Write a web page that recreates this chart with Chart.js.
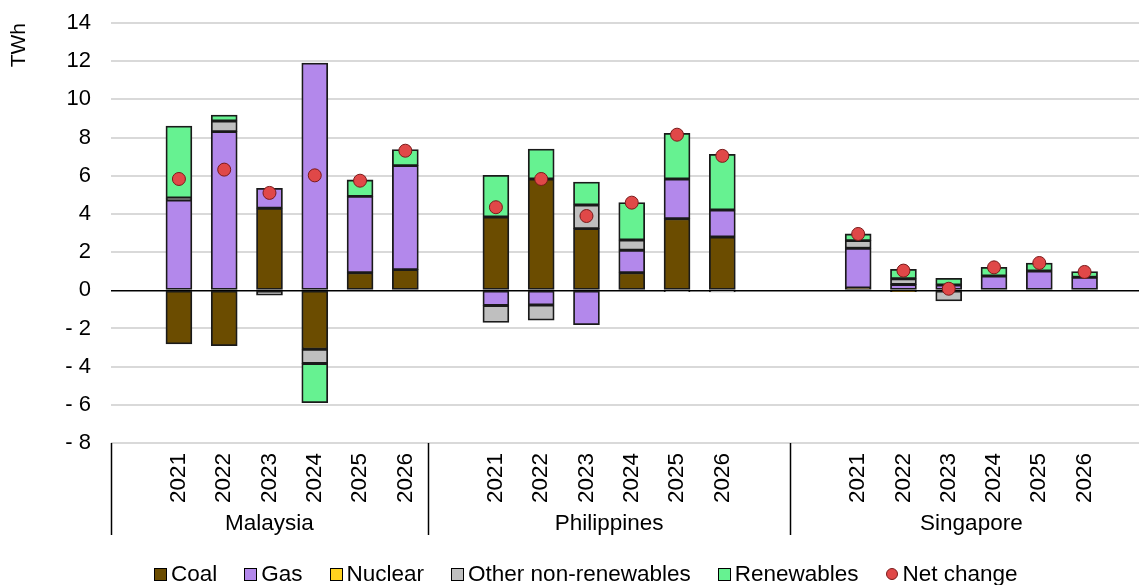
<!DOCTYPE html>
<html>
<head>
<meta charset="utf-8">
<script src="https://cdn.jsdelivr.net/npm/chart.js@4.4.1/dist/chart.umd.min.js"></script>
<style>
  html, body { margin: 0; padding: 0; background: #fff; overflow: hidden; }
  #wrap { position: relative; width: 1160px; height: 585px; }
  #legend {
    position: absolute; left: 154px; top: 561px;
    display: flex; align-items: center;
    font: 22.5px "Liberation Sans", Arial, sans-serif; color: #000; line-height: 26px;
  }
  #legend .item { display: flex; align-items: center; margin-right: 27px; }
  #legend .box { width: 11px; height: 11px; border: 1px solid #000; margin-right: 4px; }
  #legend .dot { width: 10px; height: 10px; border: 1px solid #7a1a1a; border-radius: 50%; margin-right: 5px; }
</style>
</head>
<body>
<div id="wrap">
  <canvas id="chart"></canvas>
  <div id="legend"></div>
</div>
<script>
// Categories
const years = ['2021', '2022', '2023', '2024', '2025', '2026'];
const countries = ['Malaysia', 'Philippines', 'Singapore'];

// Series values (TWh), Malaysia 2021-2026, Philippines 2021-2026, Singapore 2021-2026
const coal       = [-2.81, -2.90, 4.30, -3.09, 0.92, 1.08,   3.84, 5.83, 3.23, 0.92, 3.75, 2.79,   0.12, -0.07, 0, 0, 0, 0];
const gas        = [4.73, 8.31, 1.04, 11.90, 4.00, 5.45,     -0.80, -0.77, -1.80, 1.18, 2.08, 1.41, 2.08, 0.30, 0.28, 0.75, 1.01, 0.68];
const nuclear    = [0, 0, 0, 0, 0, 0,                        0, 0, 0, 0, 0, 0,                     0, 0, 0, 0, 0, 0];
const otherNonRe = [0.10, 0.56, -0.26, -0.75, 0, 0,          -0.88, -0.80, 1.24, 0.53, -0.07, -0.08, 0.40, 0.30, -0.56, 0, 0, 0];
const renewables = [3.77, 0.31, 0, -2.05, 0.86, 0.84,        2.18, 1.57, 1.20, 1.96, 2.39, 2.92,   0.35, 0.50, 0.35, 0.45, 0.42, 0.30];
const netChange  = [5.83, 6.32, 5.10, 6.02, 5.74, 7.31,      4.35, 5.83, 3.89, 4.59, 8.15, 7.04,   2.95, 1.03, 0.08, 1.20, 1.43, 0.96];

// Y axis ticks
const yTicks = [-8, -6, -4, -2, 0, 2, 4, 6, 8, 10, 12, 14];

// slot layout of the category axis (empty slots between country groups)
const nSlots = 23;
const firstSlot = [1, 8, 16];
const groupEdges = [0, 7, 15, 23];

function toSlots(values) {
  const out = new Array(nSlots).fill(null);
  countries.forEach((c, g) => {
    years.forEach((y, i) => {
      const v = values[g * years.length + i];
      out[firstSlot[g] + i] = v === 0 ? null : v;
    });
  });
  return out;
}

const labels = new Array(nSlots).fill('');
countries.forEach((c, g) => years.forEach((y, i) => { labels[firstSlot[g] + i] = y; }));

const FONT = '"Liberation Sans", Arial, sans-serif';

function barSet(label, values, color) {
  return {
    type: 'bar', label: label, data: toSlots(values),
    backgroundColor: color, borderColor: '#1a1a1a', borderWidth: 1.8,
    borderSkipped: false, barThickness: 26, stack: 'mix', order: 1
  };
}

// country group labels and separators under the years
const groupAxis = {
  id: 'groupAxis',
  afterDraw(chart) {
    const x = chart.scales.x;
    const ctx = chart.ctx;
    const slot = x.width / nSlots;
    ctx.save();
    ctx.strokeStyle = '#000';
    ctx.lineWidth = 1.5;
    groupEdges.slice(0, 3).forEach(k => {
      const px = Math.round(x.left + k * slot) + 0.5;
      ctx.beginPath();
      ctx.moveTo(px, x.top);
      ctx.lineTo(px, 535);
      ctx.stroke();
    });
    ctx.fillStyle = '#000';
    ctx.font = '22.5px ' + FONT;
    ctx.textAlign = 'center';
    ctx.textBaseline = 'alphabetic';
    countries.forEach((c, g) => {
      const mid = x.left + (groupEdges[g] + groupEdges[g + 1]) / 2 * slot;
      ctx.fillText(c, mid, 530);
    });
    ctx.restore();
  }
};

const chart = new Chart(document.getElementById('chart'), {
  data: {
    labels: labels,
    datasets: [
      barSet('Coal', coal, '#6b4c00'),
      barSet('Gas', gas, '#b388eb'),
      barSet('Nuclear', nuclear, '#ffd21f'),
      barSet('Other non-renewables', otherNonRe, '#bfbfbf'),
      barSet('Renewables', renewables, '#66f291'),
      {
        type: 'line', label: 'Net change', data: toSlots(netChange),
        showLine: false, pointRadius: 6.5, pointHoverRadius: 6.5,
        pointBackgroundColor: '#e04848', pointBorderColor: '#7a1a1a', pointBorderWidth: 1,
        stack: 'net', order: 0
      }
    ]
  },
  options: {
    responsive: true,
    maintainAspectRatio: false,
    animation: false,
    layout: { padding: { top: 23, left: 0, right: 0, bottom: 0 } },
    plugins: {
      legend: { display: false },
      tooltip: { enabled: false }
    },
    scales: {
      x: {
        stacked: true,
        grid: { display: false, drawTicks: false },
        border: { display: false },
        ticks: {
          autoSkip: false, minRotation: 90, maxRotation: 90, padding: 10,
          color: '#000', font: { family: FONT, size: 22.5 }
        },
        afterFit(scale) {
          scale.height = 142;
          scale.paddingLeft = 0;
          scale.paddingRight = 0;
        }
      },
      y: {
        stacked: true,
        min: -8, max: 14,
        afterBuildTicks(scale) { scale.ticks = yTicks.map(v => ({ value: v })); },
        grid: {
          drawTicks: false,
          color: ctx => ctx.tick.value === 0 ? '#000' : '#d9d9d9',
          lineWidth: ctx => ctx.tick.value === 0 ? 1.5 : 2
        },
        border: { display: false },
        ticks: {
          padding: 20, color: '#000', font: { family: FONT, size: 22 },
          callback: v => v < 0 ? '- ' + Math.abs(v) : String(v)
        },
        title: {
          display: true, text: 'TWh', align: 'end', color: '#000',
          font: { family: FONT, size: 21 }, padding: { top: 7, bottom: 0 }
        },
        afterFit(scale) {
          scale.width = 111;
          scale.paddingTop = 0;
          scale.paddingBottom = 0;
        }
      }
    }
  },
  plugins: [groupAxis]
});

// legend built from the datasets
const legend = document.getElementById('legend');
chart.data.datasets.forEach(ds => {
  const item = document.createElement('div');
  item.className = 'item';
  const mark = document.createElement('span');
  if (ds.type === 'line') {
    mark.className = 'dot';
    mark.style.background = ds.pointBackgroundColor;
  } else {
    mark.className = 'box';
    mark.style.background = ds.backgroundColor;
  }
  const txt = document.createElement('span');
  txt.textContent = ds.label;
  item.appendChild(mark);
  item.appendChild(txt);
  legend.appendChild(item);
});
</script>
</body>
</html>
